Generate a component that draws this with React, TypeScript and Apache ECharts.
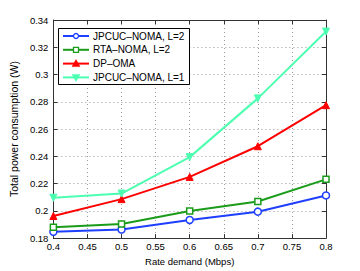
import React, { useEffect, useRef } from "react";
import * as echarts from "echarts";

const rates = [0.4, 0.5, 0.6, 0.7, 0.8];
const jpcucL2 = [0.1846, 0.1863, 0.1933, 0.1994, 0.2113];
const rtaL2 = [0.188, 0.1904, 0.1999, 0.2069, 0.2231];
const dpOma = [0.1962, 0.2086, 0.2249, 0.2474, 0.2775];
const jpcucL1 = [0.2096, 0.2127, 0.2394, 0.2825, 0.3315];
const seriesNames = ["JPCUC–NOMA, L=2", "RTA–NOMA, L=2", "DP–OMA", "JPCUC–NOMA, L=1"];
const seriesColors = ["#1f3fff", "#1a9c1a", "#ff0000", "#4dffb0"];
const xTitle = "Rate demand (Mbps)";
const yTitle = "Total power consumption (W)";

const FONT = "Liberation Sans";

export default function App() {
  const ref = useRef<HTMLDivElement>(null);
  useEffect(() => {
    if (!ref.current) return;
    const chart = echarts.init(ref.current, undefined, { renderer: "svg" });
    const pair = (ys: number[]) => rates.map((r, i) => [r, ys[i]]);
    const mk = (
      name: string,
      ys: number[],
      color: string,
      symbol: string,
      hollow: boolean,
      rotate = 0
    ) => ({
      name,
      type: "line",
      data: pair(ys),
      symbol,
      symbolSize: symbol === "rect" ? 6 : 7,
      symbolRotate: rotate,
      showAllSymbol: true,
      lineStyle: { color, width: 2 },
      itemStyle: hollow
        ? { color: "#ffffff", borderColor: color, borderWidth: 1.5 }
        : { color, borderColor: color, borderWidth: 1 },
      emphasis: { disabled: true },
    });
    const axisCommon = {
      axisLine: { show: true, lineStyle: { color: "#333", width: 1 } },
      axisTick: { show: true, inside: true, length: 4, lineStyle: { color: "#333" } },
    };

    // legend drawn as graphic elements
    const lgX = 58.5, lgY = 28.5, lgW = 131, lgH = 56;
    const rowY = (i: number) => 36 + i * 13.8;
    const lineX1 = 63, lineX2 = 89, midX = 76, textX = 93;
    const legendEls: any[] = [
      {
        type: "rect",
        shape: { x: lgX, y: lgY, width: lgW, height: lgH },
        style: { fill: "#fff", stroke: "#000", lineWidth: 1 },
        z: 100,
      },
    ];
    seriesNames.forEach((name, i) => {
      const y = rowY(i);
      const c = seriesColors[i];
      legendEls.push({
        type: "line",
        shape: { x1: lineX1, y1: y, x2: lineX2, y2: y },
        style: { stroke: c, lineWidth: 2 },
        z: 101,
      });
      if (i === 0) {
        legendEls.push({
          type: "circle",
          shape: { cx: midX, cy: y, r: 2.5 },
          style: { fill: "#fff", stroke: c, lineWidth: 1.3 },
          z: 102,
        });
      } else if (i === 1) {
        legendEls.push({
          type: "rect",
          shape: { x: midX - 2.5, y: y - 2.5, width: 5, height: 5 },
          style: { fill: "#fff", stroke: c, lineWidth: 1.3 },
          z: 102,
        });
      } else if (i === 2) {
        legendEls.push({
          type: "polygon",
          shape: { points: [[midX, y - 4], [midX + 4, y + 3], [midX - 4, y + 3]] },
          style: { fill: c, stroke: c, lineWidth: 0.5 },
          z: 102,
        });
      } else {
        legendEls.push({
          type: "polygon",
          shape: { points: [[midX, y + 4], [midX + 4, y - 3], [midX - 4, y - 3]] },
          style: { fill: c, stroke: c, lineWidth: 0.5 },
          z: 102,
        });
      }
      legendEls.push({
        type: "text",
        x: textX,
        y: y,
        style: {
          text: name,
          fontSize: 10,
          fontFamily: FONT,
          fill: "#000",
          textVerticalAlign: "middle",
          verticalAlign: "middle",
          align: "left",
        },
        z: 102,
      });
    });

    chart.setOption({
      animation: false,
      textStyle: { fontFamily: FONT, fontSize: 10 },
      grid: { left: 46, right: 34, top: 20, bottom: 31, show: false },
      graphic: legendEls,
      xAxis: [
        {
          type: "value",
          min: 0.4,
          max: 0.8,
          interval: 0.05,
          name: xTitle,
          nameLocation: "middle",
          nameGap: 16,
          nameTextStyle: { fontSize: 9.5, color: "#000", fontFamily: FONT },
          ...axisCommon,
          axisLabel: {
            fontSize: 9.5,
            color: "#000",
            margin: 3,
            formatter: (v: number) => String(Math.round(v * 100) / 100),
          },
          splitLine: { show: true, lineStyle: { type: [1, 3], color: "#999", width: 1 } },
        },
        {
          type: "value",
          position: "top",
          min: 0.4,
          max: 0.8,
          interval: 0.05,
          ...axisCommon,
          axisLabel: { show: false },
          splitLine: { show: false },
        },
      ],
      yAxis: [
        {
          type: "value",
          min: 0.18,
          max: 0.34,
          interval: 0.02,
          name: yTitle,
          nameLocation: "middle",
          nameGap: 27,
          nameTextStyle: { fontSize: 10.5, color: "#000", fontFamily: FONT },
          ...axisCommon,
          axisLabel: {
            fontSize: 9.5,
            color: "#000",
            margin: 5,
            formatter: (v: number) => String(Math.round(v * 100) / 100),
          },
          splitLine: { show: true, lineStyle: { type: [1, 3], color: "#999", width: 1 } },
        },
        {
          type: "value",
          position: "right",
          min: 0.18,
          max: 0.34,
          interval: 0.02,
          ...axisCommon,
          axisLabel: { show: false },
          splitLine: { show: false },
        },
      ],
      series: [
        mk(seriesNames[0], jpcucL2, seriesColors[0], "circle", true),
        mk(seriesNames[1], rtaL2, seriesColors[1], "rect", true),
        mk(seriesNames[2], dpOma, seriesColors[2], "triangle", false),
        mk(seriesNames[3], jpcucL1, seriesColors[3], "triangle", false, 180),
      ],
    });
    return () => chart.dispose();
  }, []);
  return (
    <div
      ref={ref}
      style={{ position: "absolute", left: 0, top: 0, width: 360, height: 271 }}
    />
  );
}
